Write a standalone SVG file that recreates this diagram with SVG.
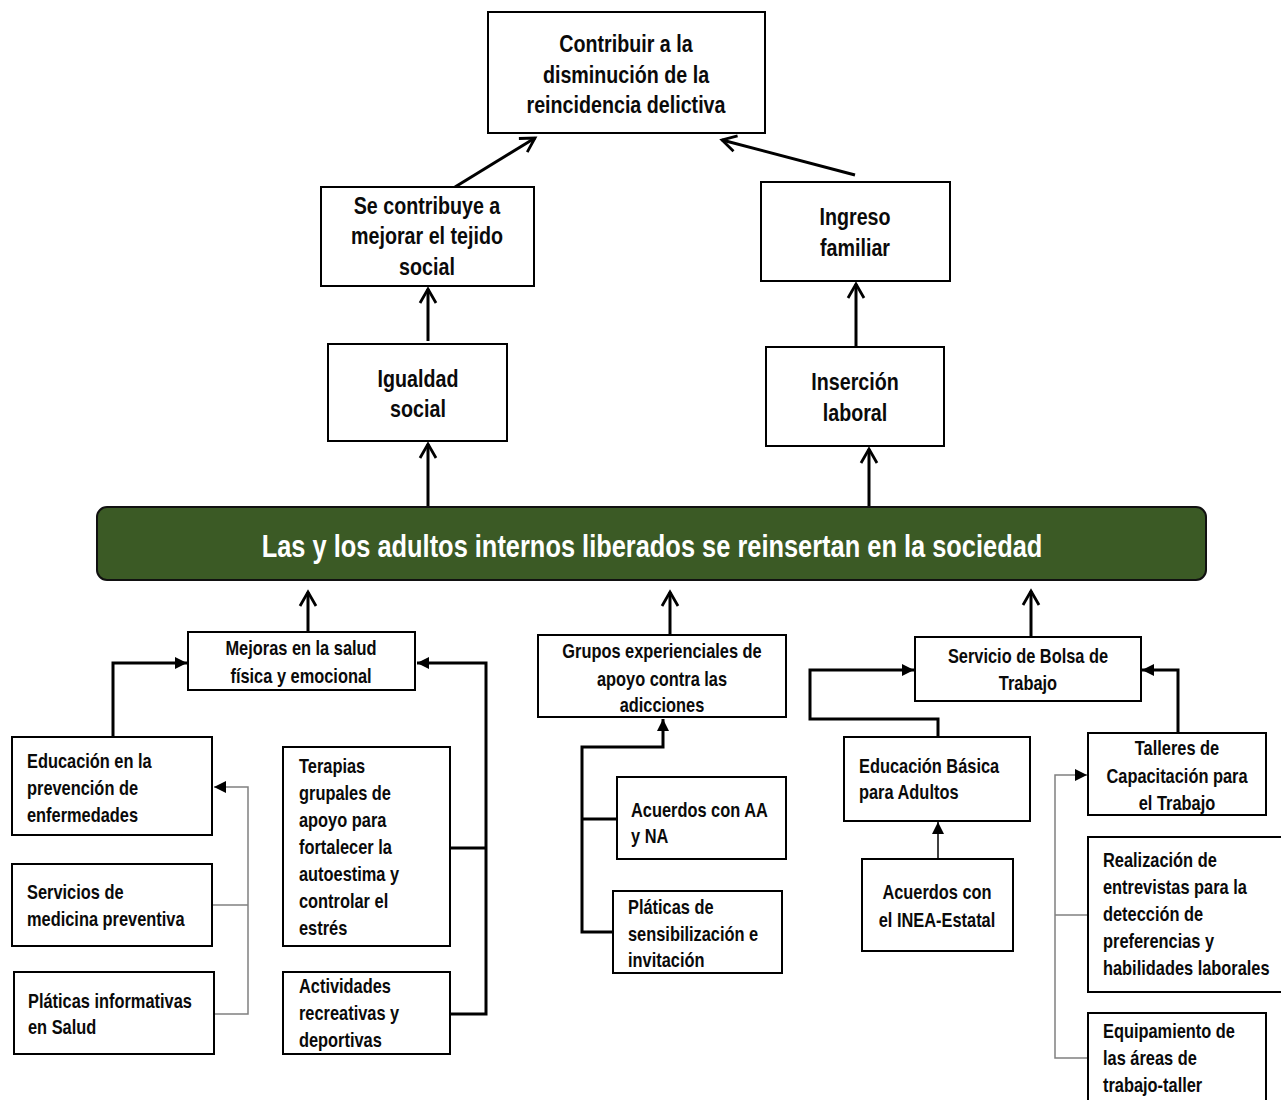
<svg xmlns="http://www.w3.org/2000/svg" width="1281" height="1100" viewBox="0 0 1281 1100">
<style>
.box{fill:#fff;stroke:#000;stroke-width:2}
.t{font-family:"Liberation Sans",Arial,sans-serif;font-weight:bold;fill:#0a0a0a}
.t24{font-size:24px;text-anchor:middle}
.t20c{font-size:20px;text-anchor:middle}
.t20{font-size:20px;text-anchor:start}
.big{font-family:"Liberation Sans",Arial,sans-serif;font-weight:bold;font-size:31px;fill:#fff;text-anchor:middle}
.c3{fill:none;stroke:#000;stroke-width:3}
.c25{fill:none;stroke:#000;stroke-width:3}
.cg{fill:none;stroke:#808080;stroke-width:1.5}
.ck{fill:none;stroke:#000;stroke-width:1.5}
</style>
<defs>
<marker id="open" markerUnits="userSpaceOnUse" markerWidth="20" markerHeight="20" viewBox="0 0 20 20" refX="16" refY="10" orient="auto">
<path d="M2,2 L16,10 L2,18" fill="none" stroke="#000" stroke-width="2.8"/>
</marker>
<marker id="fill" markerUnits="userSpaceOnUse" markerWidth="14" markerHeight="14" viewBox="0 0 14 14" refX="12" refY="7" orient="auto">
<path d="M0,1 L12,7 L0,13 Z" fill="#000"/>
</marker>
</defs>

<g id="connectors">
<line class="c25" x1="428" y1="341" x2="428" y2="289" marker-end="url(#open)"/>
<line class="c25" x1="428" y1="506" x2="428" y2="444" marker-end="url(#open)"/>
<line class="c25" x1="856" y1="346" x2="856" y2="284" marker-end="url(#open)"/>
<line class="c25" x1="869" y1="510" x2="869" y2="449" marker-end="url(#open)"/>
<line class="c25" x1="455" y1="187" x2="535" y2="138" marker-end="url(#open)"/>
<line class="c25" x1="855" y1="175" x2="722" y2="140" marker-end="url(#open)"/>
<line class="c25" x1="308" y1="632" x2="308" y2="592" marker-end="url(#open)"/>
<line class="c25" x1="670" y1="635" x2="670" y2="592" marker-end="url(#open)"/>
<line class="c25" x1="1031" y1="636" x2="1031" y2="591" marker-end="url(#open)"/>

<path class="c3" d="M113,737 V663 H187" marker-end="url(#fill)"/>
<path class="c3" d="M450,848 H486"/>
<path class="c3" d="M450,1014 H486 V663 H417" marker-end="url(#fill)"/>
<path class="cg" d="M212,905 H248"/>
<path class="cg" d="M214,1014 H248 V787 H214" marker-end="url(#fill)"/>
<path class="c3" d="M617,819 H582"/>
<path class="c3" d="M613,932 H582 V747 H663 V719" marker-end="url(#fill)"/>
<path class="c3" d="M938,737 V719 H810 V670 H914" marker-end="url(#fill)"/>
<path class="c3" d="M1178,733 V670 H1142" marker-end="url(#fill)"/>
<path class="ck" d="M938,859 V822" marker-end="url(#fill)"/>
<path class="cg" d="M1088,915 H1055"/>
<path class="cg" d="M1090,1058 H1055 V775 H1087" marker-end="url(#fill)"/>
</g>

<g id="n-fin">
<rect class="box" x="488" y="12" width="277" height="121"/>
<text class="t t24" transform="translate(626,0) scale(0.82,1)"><tspan x="0" y="52">Contribuir a la</tspan><tspan x="0" y="83">disminución de la</tspan><tspan x="0" y="113">reincidencia delictiva</tspan></text>
</g>
<g id="n-tejido">
<rect class="box" x="321" y="187" width="213" height="99"/>
<text class="t t24" transform="translate(427,0) scale(0.82,1)"><tspan x="0" y="214">Se contribuye a</tspan><tspan x="0" y="244">mejorar el tejido</tspan><tspan x="0" y="275">social</tspan></text>
</g>
<g id="n-ingreso">
<rect class="box" x="761" y="182" width="189" height="99"/>
<text class="t t24" transform="translate(855,0) scale(0.82,1)"><tspan x="0" y="225">Ingreso</tspan><tspan x="0" y="256">familiar</tspan></text>
</g>
<g id="n-igualdad">
<rect class="box" x="328" y="344" width="179" height="97"/>
<text class="t t24" transform="translate(418,0) scale(0.82,1)"><tspan x="0" y="387">Igualdad</tspan><tspan x="0" y="417">social</tspan></text>
</g>
<g id="n-insercion">
<rect class="box" x="766" y="347" width="178" height="99"/>
<text class="t t24" transform="translate(855,0) scale(0.82,1)"><tspan x="0" y="390">Inserción</tspan><tspan x="0" y="421">laboral</tspan></text>
</g>

<g id="n-proposito">
<rect x="97" y="507" width="1109" height="73" rx="10" ry="10" fill="#3b5a25" stroke="#111" stroke-width="2"/>
<text class="big" transform="translate(652,0) scale(0.82,1)"><tspan x="0" y="557">Las y los adultos internos liberados se reinsertan en la sociedad</tspan></text>
</g>

<g id="n-mejoras">
<rect class="box" x="188" y="632" width="227" height="58"/>
<text class="t t20c" transform="translate(301,0) scale(0.82,1)"><tspan x="0" y="655">Mejoras en la salud</tspan><tspan x="0" y="683">física y emocional</tspan></text>
</g>
<g id="n-grupos">
<rect class="box" x="538" y="635" width="248" height="82"/>
<text class="t t20c" transform="translate(662,0) scale(0.82,1)"><tspan x="0" y="658">Grupos experienciales de</tspan><tspan x="0" y="686">apoyo contra las</tspan><tspan x="0" y="712">adicciones</tspan></text>
</g>
<g id="n-bolsa">
<rect class="box" x="915" y="637" width="226" height="64"/>
<text class="t t20c" transform="translate(1028,0) scale(0.82,1)"><tspan x="0" y="663">Servicio de Bolsa de</tspan><tspan x="0" y="690">Trabajo</tspan></text>
</g>

<g id="n-educacion">
<rect class="box" x="12" y="737" width="200" height="98"/>
<text class="t t20" transform="translate(27,0) scale(0.82,1)"><tspan x="0" y="768">Educación en la</tspan><tspan x="0" y="795">prevención de</tspan><tspan x="0" y="822">enfermedades</tspan></text>
</g>
<g id="n-servicios">
<rect class="box" x="12" y="864" width="200" height="82"/>
<text class="t t20" transform="translate(27,0) scale(0.82,1)"><tspan x="0" y="899">Servicios de</tspan><tspan x="0" y="926">medicina preventiva</tspan></text>
</g>
<g id="n-platicas-salud">
<rect class="box" x="14" y="972" width="200" height="82"/>
<text class="t t20" transform="translate(28,0) scale(0.82,1)"><tspan x="0" y="1008">Pláticas informativas</tspan><tspan x="0" y="1034">en Salud</tspan></text>
</g>
<g id="n-terapias">
<rect class="box" x="283" y="747" width="167" height="199"/>
<text class="t t20" transform="translate(299,0) scale(0.82,1)"><tspan x="0" y="773">Terapias</tspan><tspan x="0" y="800">grupales de</tspan><tspan x="0" y="827">apoyo para</tspan><tspan x="0" y="854">fortalecer la</tspan><tspan x="0" y="881">autoestima y</tspan><tspan x="0" y="908">controlar el</tspan><tspan x="0" y="935">estrés</tspan></text>
</g>
<g id="n-actividades">
<rect class="box" x="283" y="972" width="167" height="82"/>
<text class="t t20" transform="translate(299,0) scale(0.82,1)"><tspan x="0" y="993">Actividades</tspan><tspan x="0" y="1020">recreativas y</tspan><tspan x="0" y="1047">deportivas</tspan></text>
</g>

<g id="n-aa">
<rect class="box" x="617" y="777" width="169" height="82"/>
<text class="t t20" transform="translate(631,0) scale(0.82,1)"><tspan x="0" y="817">Acuerdos con AA</tspan><tspan x="0" y="843">y NA</tspan></text>
</g>
<g id="n-sensibilizacion">
<rect class="box" x="613" y="891" width="169" height="82"/>
<text class="t t20" transform="translate(628,0) scale(0.82,1)"><tspan x="0" y="914">Pláticas de</tspan><tspan x="0" y="941">sensibilización e</tspan><tspan x="0" y="967">invitación</tspan></text>
</g>

<g id="n-edubasica">
<rect class="box" x="844" y="737" width="186" height="84"/>
<text class="t t20" transform="translate(859,0) scale(0.82,1)"><tspan x="0" y="773">Educación Básica</tspan><tspan x="0" y="799">para Adultos</tspan></text>
</g>
<g id="n-inea">
<rect class="box" x="862" y="859" width="151" height="92"/>
<text class="t t20c" transform="translate(937,0) scale(0.82,1)"><tspan x="0" y="899">Acuerdos con</tspan><tspan x="0" y="927">el INEA-Estatal</tspan></text>
</g>
<g id="n-talleres">
<rect class="box" x="1088" y="733" width="178" height="82"/>
<text class="t t20c" transform="translate(1177,0) scale(0.82,1)"><tspan x="0" y="755">Talleres de</tspan><tspan x="0" y="783">Capacitación para</tspan><tspan x="0" y="810">el Trabajo</tspan></text>
</g>
<g id="n-realizacion">
<rect class="box" x="1088" y="837" width="200" height="155"/>
<text class="t t20" transform="translate(1103,0) scale(0.82,1)"><tspan x="0" y="867">Realización de</tspan><tspan x="0" y="894">entrevistas para la</tspan><tspan x="0" y="921">detección de</tspan><tspan x="0" y="948">preferencias y</tspan><tspan x="0" y="975">habilidades laborales</tspan></text>
</g>
<g id="n-equipamiento">
<rect class="box" x="1088" y="1013" width="178" height="100"/>
<text class="t t20" transform="translate(1103,0) scale(0.82,1)"><tspan x="0" y="1038">Equipamiento de</tspan><tspan x="0" y="1065">las áreas de</tspan><tspan x="0" y="1092">trabajo-taller</tspan></text>
</g>
</svg>
